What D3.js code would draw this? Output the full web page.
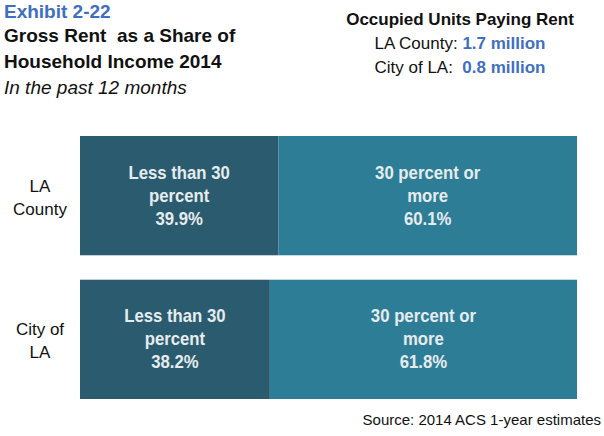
<!DOCTYPE html>
<html>
<head>
<meta charset="utf-8">
<script src="https://cdn.jsdelivr.net/npm/d3@7"></script>
<style>
  body { margin: 0; background: #fff; }
  svg { display: block; }
  .narrow { font-family: "Liberation Sans Narrow", "Arial Narrow", "Liberation Sans", Arial, sans-serif; }
  .sans { font-family: "Liberation Sans", Arial, sans-serif; }
</style>
</head>
<body>
<div id="chart"></div>
<script>
// data
var places = ["LA County", "City of LA"];
var placeLines = [["LA", "County"], ["City of", "LA"]];
var shareUnder30 = [39.9, 38.2];
var shareOver30 = [60.1, 61.8];
var segmentLabels = [["Less than 30", "percent"], ["30 percent or", "more"]];
var unitsPlaces = ["LA County:", "City of LA:"];
var unitsValues = ["1.7 million", "0.8 million"];

var width = 604, height = 436,
  margin = { top: 136, right: 27, bottom: 37, left: 80 },
  darkColor = "#2a5b6e",
  lightColor = "#2e7d96",
  blue = "#3f6fc0";

var svg = d3.select("#chart").append("svg")
  .attr("width", width)
  .attr("height", height);

// Title block
var title = svg.append("g").attr("class", "sans");
title.append("text")
  .attr("x", 4).attr("y", 18)
  .attr("font-size", 19).attr("font-weight", "bold")
  .attr("fill", blue)
  .text("Exhibit 2-22");
title.selectAll("text.t")
  .data(["Gross Rent  as a Share of", "Household Income 2014"])
  .join("text")
  .attr("class", "t")
  .attr("x", 4)
  .attr("y", (d, i) => 42 + i * 26)
  .attr("font-size", 19).attr("font-weight", "bold")
  .attr("fill", "#111")
  .style("white-space", "pre")
  .text(d => d);
title.append("text")
  .attr("x", 4).attr("y", 94)
  .attr("font-size", 19).attr("font-style", "italic")
  .attr("fill", "#111")
  .text("In the past 12 months");

// Occupied units box
var units = svg.append("g").attr("class", "sans").attr("text-anchor", "middle");
units.append("text")
  .attr("x", 460).attr("y", 25)
  .attr("font-size", 17).attr("font-weight", "bold")
  .attr("fill", "#111")
  .text("Occupied Units Paying Rent");
units.selectAll("text.u")
  .data(unitsPlaces)
  .join("text")
  .attr("class", "u")
  .attr("x", 460)
  .attr("y", (d, i) => 49 + i * 24)
  .attr("font-size", 17)
  .style("white-space", "pre")
  .each(function (d, i) {
    var t = d3.select(this);
    t.append("tspan").attr("fill", "#111").text(d + (i === 1 ? "  " : " "));
    t.append("tspan").attr("fill", blue).attr("font-weight", "bold").text(unitsValues[i]);
  });

// Scales
var x = d3.scaleLinear()
  .domain([0, 100])
  .range([margin.left, width - margin.right]);

var y = d3.scaleBand()
  .domain(places)
  .range([margin.top, height - margin.bottom])
  .paddingInner(0.17);

var rows = places.map((p, i) => ({
  place: p,
  lines: placeLines[i],
  segs: [
    { x0: 0, x1: shareUnder30[i], v: shareUnder30[i], lab: segmentLabels[0], color: darkColor },
    { x0: shareUnder30[i], x1: shareUnder30[i] + shareOver30[i], v: shareOver30[i], lab: segmentLabels[1], color: lightColor }
  ]
}));

var row = svg.selectAll(".row")
  .data(rows)
  .join("g")
  .attr("class", "row");

// category labels
row.append("text")
  .attr("class", "sans")
  .attr("text-anchor", "middle")
  .attr("font-size", 17)
  .attr("fill", "#111")
  .selectAll("tspan")
  .data(d => d.lines.map(l => ({ l: l, place: d.place })))
  .join("tspan")
  .attr("x", 40)
  .attr("y", (d, i) => y(d.place) + y.bandwidth() / 2 - 4 + i * 23)
  .text(d => d.l);

var seg = row.selectAll(".seg")
  .data(d => d.segs.map(s => Object.assign({ place: d.place }, s)))
  .join("g")
  .attr("class", "seg");

seg.append("rect")
  .attr("x", d => x(d.x0))
  .attr("y", d => y(d.place))
  .attr("width", d => x(d.x1) - x(d.x0))
  .attr("height", y.bandwidth())
  .attr("fill", d => d.color);

// segment labels, slightly condensed like the original narrow face
seg.append("text")
  .attr("class", "narrow")
  .attr("text-anchor", "middle")
  .attr("font-size", 18)
  .attr("font-weight", "bold")
  .attr("fill", "#e6ecee")
  .attr("transform", "scale(0.93,1)")
  .selectAll("tspan")
  .data(d => d.lab.concat([d.v.toFixed(1) + "%"]).map(l => ({ l: l, d: d })))
  .join("tspan")
  .attr("x", o => (x(o.d.x0) + x(o.d.x1)) / 2 / 0.93)
  .attr("y", (o, i) => y(o.d.place) + y.bandwidth() / 2 - 17 + i * 23)
  .text(o => o.l);

// source
svg.append("text")
  .attr("class", "narrow")
  .attr("x", 601).attr("y", 425)
  .attr("text-anchor", "end")
  .attr("font-size", 15)
  .attr("fill", "#111")
  .text("Source: 2014 ACS 1-year estimates");
</script>
</body>
</html>
